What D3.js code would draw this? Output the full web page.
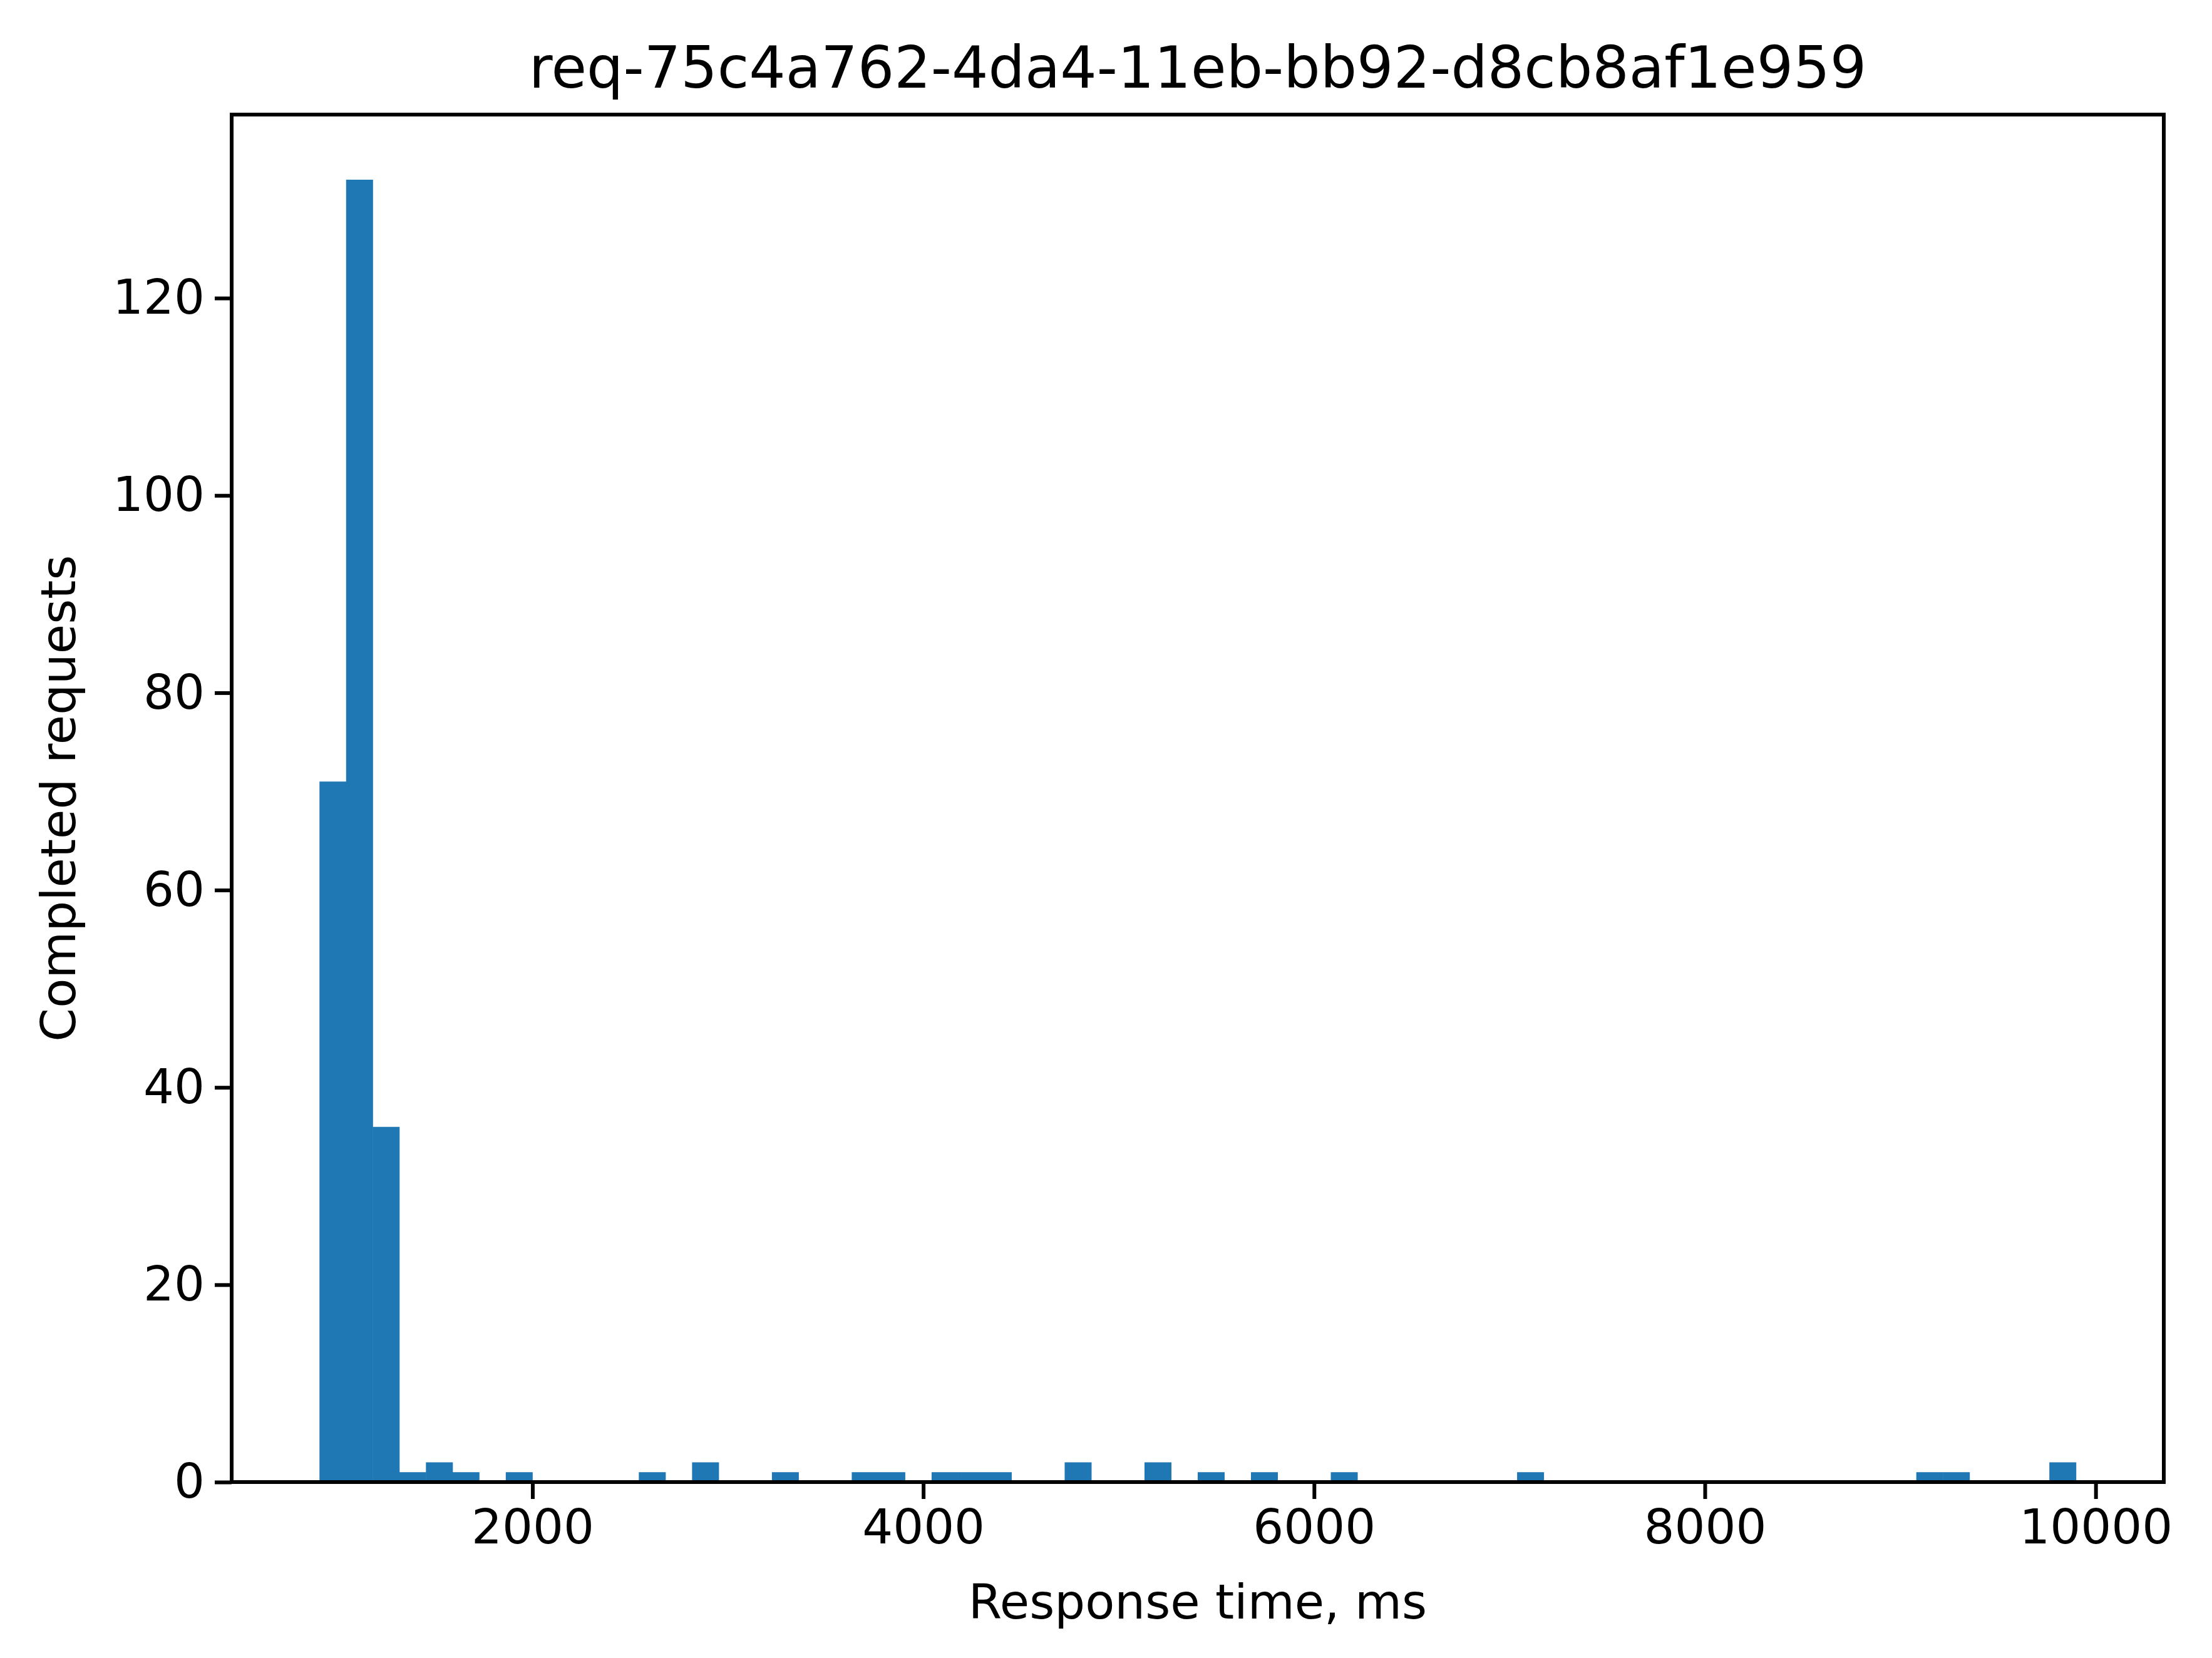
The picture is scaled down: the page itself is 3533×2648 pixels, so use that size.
<!DOCTYPE html><html><head><script src="https://cdn.jsdelivr.net/npm/d3@7"></script>
<style>body{margin:0;background:#fff}text{font-family:"DejaVu Sans";fill:#000}</style></head><body>
<script>
const binStart = 910, binWidth = 136.2, binCount = 66;
const binIndex = [0,1,2,3,4,5,7,12,14,17,20,21,23,24,25,28,31,33,35,38,45,60,61,65];
const binCounts = [71,132,36,1,2,1,1,1,2,1,1,1,1,1,1,2,2,1,1,1,1,1,1,2];
const xTicks = [2000,4000,6000,8000,10000];
const yTicks = [0,20,40,60,80,100,120];
const title = "req-75c4a762-4da4-11eb-bb92-d8cb8af1e959";

const W=3533,H=2648,L=370,R=3456,T=183,B=2367;
const svg=d3.select("body").append("svg").attr("width",W).attr("height",H);
const xEnd=binStart+binCount*binWidth, span=xEnd-binStart;
const x=d3.scaleLinear().domain([binStart-0.05*span,xEnd+0.05*span]).range([L,R]);
const y=d3.scaleLinear().domain([0,132*1.05]).range([B,T]);
svg.selectAll("rect.bar").data(binIndex.map((b,i)=>({b,c:binCounts[i]}))).join("rect")
 .attr("x",d=>x(binStart+d.b*binWidth)).attr("width",d=>x(binStart+(d.b+1)*binWidth)-x(binStart+d.b*binWidth)+0.5)
 .attr("y",d=>y(d.c)).attr("height",d=>B-y(d.c)).attr("fill","#1f77b4");
const xa=svg.append("g").attr("transform",`translate(0,${B})`).call(d3.axisBottom(x).tickValues(xTicks).tickFormat(d3.format("d")).tickSize(27).tickPadding(16));
const ya=svg.append("g").attr("transform",`translate(${L},0)`).call(d3.axisLeft(y).tickValues(yTicks).tickSize(27).tickPadding(16));
[xa,ya].forEach(a=>{a.select(".domain").remove();a.selectAll("line").attr("stroke","#000").attr("stroke-width",6);a.selectAll("text").attr("font-size",77).attr("font-family","DejaVu Sans");});
svg.append("rect").attr("x",L).attr("y",T).attr("width",R-L).attr("height",B-T).attr("fill","none").attr("stroke","#000").attr("stroke-width",6);
svg.append("text").attr("x",(L+R)/2).attr("y",140).attr("text-anchor","middle").attr("font-size",92).text(title);
svg.append("text").attr("x",(L+R)/2).attr("y",2585).attr("text-anchor","middle").attr("font-size",77).text("Response time, ms");
svg.append("text").attr("transform",`translate(120,${(T+B)/2}) rotate(-90)`).attr("text-anchor","middle").attr("font-size",77).text("Completed requests");
</script></body></html>
